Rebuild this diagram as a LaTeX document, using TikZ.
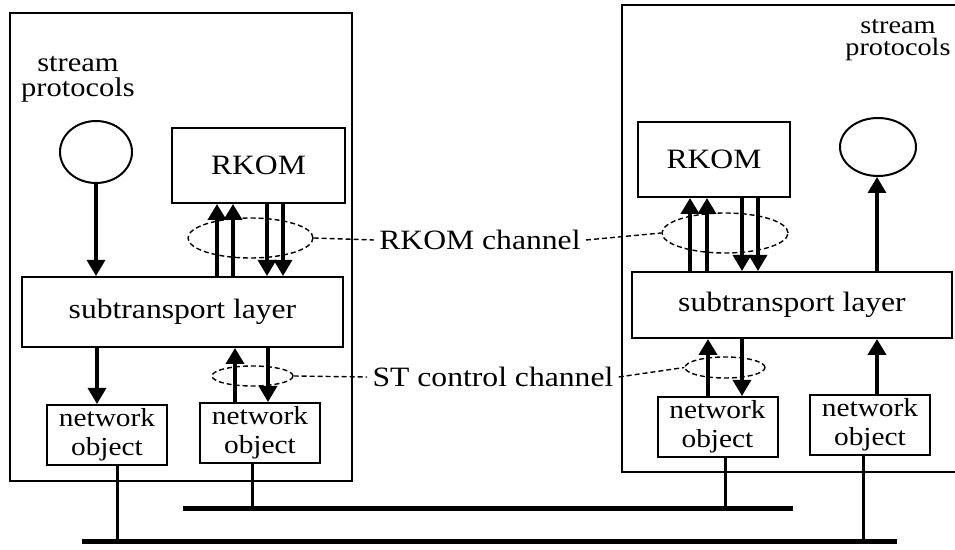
\documentclass[tikz,border=0pt]{standalone}
\usepackage{fontspec}
\setmainfont{Liberation Serif}[FakeStretch=1.13]
\usetikzlibrary{arrows.meta,shapes.geometric}
\begin{document}
\begin{tikzpicture}[x=0.5pt,y=-0.5pt,
  box/.style={draw, line width=1pt, rectangle, inner sep=0pt, align=center},
  nobox/.style={box, minimum width=60pt, minimum height=30pt, font=\fontsize{13}{14.3}\selectfont},
  lbl/.style={inner ysep=0pt, inner xsep=2.5pt, align=center},
  circ/.style={draw, line width=1pt, ellipse, inner sep=0pt},
  chan/.style={draw, dash pattern=on 2.5pt off 1.5pt, line width=0.7pt, ellipse, inner sep=0pt},
  link/.style={dash pattern=on 2.5pt off 1.5pt, line width=0.7pt},
  arrthick/.style={-{Triangle[length=8pt,width=9pt]}, line width=2.2pt},
  arrthin/.style={-{Triangle[length=8pt,width=9pt]}, line width=1.6pt},
  bus/.style={line width=2.5pt},
  drop/.style={line width=1.5pt},
  font=\fontsize{14}{11}\selectfont]
\useasboundingbox (0,0) rectangle (955,550);

% outer hosts
\draw[line width=1pt] (10,13) rectangle (352,481);
\draw[line width=1pt] (956,5) -- (622,5) -- (622,472) -- (956,472);

% left host
\node[lbl, font=\fontsize{13.5}{12.5}\selectfont] (lst) at (78,79) {stream\\protocols};
\node[circ, minimum width=36pt, minimum height=31pt] (lc) at (96,152) {};
\node[box, minimum width=86.5pt, minimum height=37.5pt] (lr) at (258.5,165.5) {RKOM};
\node[box, minimum width=160.5pt, minimum height=35pt] (lsub) at (182.5,312) {subtransport layer};
\node[nobox] (ln1) at (107,435) {network\\object};
\node[nobox] (ln2) at (260,433) {network\\object};

% right host
\node[lbl, font=\fontsize{12.5}{11}\selectfont] (rst) at (898,40) {stream\\protocols};
\node[circ, minimum width=38pt, minimum height=29pt] (rc) at (878,147) {};
\node[box, minimum width=76pt, minimum height=37.5pt] (rr) at (714,159.5) {RKOM};
\node[box, minimum width=160pt, minimum height=33pt] (rsub) at (792,305) {subtransport layer};
\node[nobox] (rn1) at (717.5,427) {network\\object};
\node[nobox] (rn2) at (870,425) {network\\object};

% channels
\node[chan, minimum width=62.5pt, minimum height=20pt] (c1) at (250.5,238) {};
\node[chan, minimum width=63pt, minimum height=20pt] (c2) at (725,233) {};
\node[chan, minimum width=40.5pt, minimum height=10pt] (c3) at (252.5,376) {};
\node[chan, minimum width=40pt, minimum height=10.5pt] (c4) at (725,367.5) {};
\node[lbl] (rkc) at (480,240) {RKOM channel};
\node[lbl] (stc) at (493,377) {ST control channel};
\draw[link] (c1.east) -- (rkc.west);
\draw[link] (rkc.east) -- (c2.west);
\draw[link] (c3.east) -- (stc.west);
\draw[link] (stc.east) -- (c4.west);

% column coordinates
\coordinate (xa) at (217,0);
\coordinate (xb) at (233,0);
\coordinate (xc) at (267,0);
\coordinate (xd) at (283,0);
\coordinate (xe) at (97,0);
\coordinate (xf) at (235,0);
\coordinate (xg) at (268,0);
\coordinate (xh) at (690,0);
\coordinate (xi) at (707,0);
\coordinate (xj) at (742,0);
\coordinate (xk) at (758,0);
\coordinate (xl) at (708,0);
\coordinate (xm) at (877,0);
\coordinate (xn) at (117,0);
\coordinate (xo) at (252,0);
\coordinate (xp) at (725,0);
\coordinate (xq) at (863,0);

% left arrows
\draw[arrthin] (lc.south) -- (lc.south |- lsub.north);
\draw[arrthick] (lsub.north -| xa) -- (lr.south -| xa);
\draw[arrthick] (lsub.north -| xb) -- (lr.south -| xb);
\draw[arrthin] (lr.south -| xc) -- (lsub.north -| xc);
\draw[arrthin] (lr.south -| xd) -- (lsub.north -| xd);
\draw[arrthin] (lsub.south -| xe) -- (ln1.north -| xe);
\draw[arrthick] (ln2.north -| xf) -- (lsub.south -| xf);
\draw[arrthin] (lsub.south -| xg) -- (ln2.north -| xg);

% right arrows
\draw[arrthick] (rsub.north -| xh) -- (rr.south -| xh);
\draw[arrthick] (rsub.north -| xi) -- (rr.south -| xi);
\draw[arrthin] (rr.south -| xj) -- (rsub.north -| xj);
\draw[arrthin] (rr.south -| xk) -- (rsub.north -| xk);
\draw[arrthin] (rsub.north -| xm) -- (xm |- rc.south);
\draw[arrthick] (rn1.north -| xl) -- (rsub.south -| xl);
\draw[arrthin] (rsub.south -| xj) -- (rn1.north -| xj);
\draw[arrthick] (rn2.north -| xm) -- (rsub.south -| xm);

% buses
\coordinate (ub1) at (183,509);
\coordinate (ub2) at (793,509);
\coordinate (lb1) at (82,542);
\coordinate (lb2) at (897,542);
\draw[bus] (ub1) -- (ub2);
\draw[bus] (lb1) -- (lb2);
\draw[drop] (ln1.south -| xn) -- (xn |- lb1);
\draw[drop] (ln2.south -| xo) -- (xo |- ub1);
\draw[drop] (rn1.south -| xp) -- (xp |- ub1);
\draw[drop] (rn2.south -| xq) -- (xq |- lb1);
\end{tikzpicture}
\end{document}
